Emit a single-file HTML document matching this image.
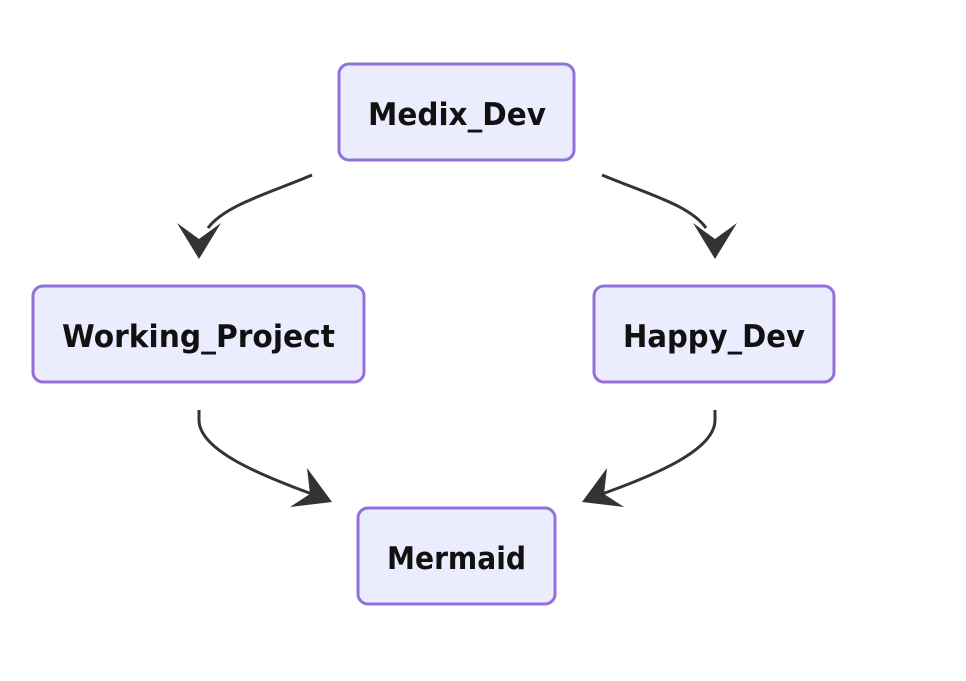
<!DOCTYPE html>
<html><head><meta charset="utf-8"><style>html,body{margin:0;padding:0;background:#fff;}</style></head>
<body>
<svg width="966" height="676" xmlns="http://www.w3.org/2000/svg">
<g fill="#ECECFF" stroke="#9370DB" stroke-width="3">
<rect x="339" y="64" width="235" height="96" rx="10"/>
<rect x="33" y="286" width="331" height="96" rx="10"/>
<rect x="594" y="286" width="240" height="96" rx="10"/>
<rect x="358" y="508" width="197" height="96" rx="10"/>
</g>
<g fill="none" stroke="#333" stroke-width="3">
<path d="M312,175 C270,193 225,205 208,228"/>
<path d="M602,175 C645,193 690,205 706,228"/>
<path d="M199,410 L199,420 C199,450 260,475 312,494"/>
<path d="M715,410 L715,420 C715,450 655,475 602,494"/>
</g>
<g fill="#333">
<polygon points="199,259 177,223 199,239 221,223"/>
<polygon points="715,259 693,223 715,239 737,223"/>
<polygon points="332,502 307,468 310,494 290,507"/>
<polygon points="582,502 607,468 604,494 624,507"/>
</g>
<g font-family="'DejaVu Sans','Liberation Sans',sans-serif" font-weight="bold" font-size="31" fill="#111" text-anchor="start">
<text x="368" y="125" textLength="178" lengthAdjust="spacingAndGlyphs">Medix_Dev</text>
<text x="62" y="347" textLength="273" lengthAdjust="spacingAndGlyphs">Working_Project</text>
<text x="623" y="347" textLength="182" lengthAdjust="spacingAndGlyphs">Happy_Dev</text>
<text x="387" y="569" textLength="139" lengthAdjust="spacingAndGlyphs">Mermaid</text>
</g>
</svg>
</body></html>
